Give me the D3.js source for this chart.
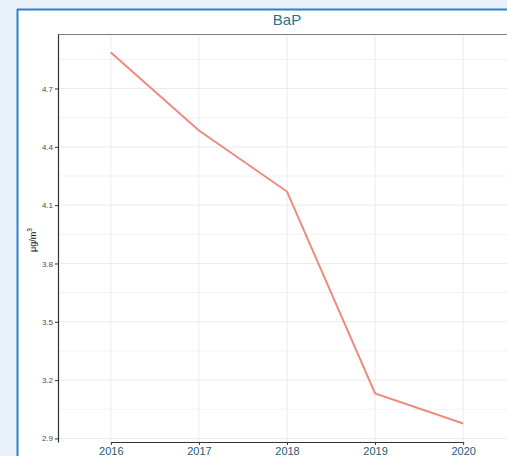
<!DOCTYPE html>
<html>
<head>
<meta charset="utf-8">
<script src="https://cdn.jsdelivr.net/npm/d3@7"></script>
<style>
  html, body { margin: 0; padding: 0; background: #e8f1fa; overflow: hidden; }
  svg { display: block; font-family: "Liberation Sans", Arial, sans-serif; }
</style>
</head>
<body>
<svg id="chart" width="507" height="456"></svg>
<script>
// data
const years = ['2016', '2017', '2018', '2019', '2020'];
const bap = [4.885, 4.484, 4.17, 3.131, 2.977];
const yTicks = [2.9, 3.2, 3.5, 3.8, 4.1, 4.4, 4.7];
const title = 'BaP';

const svg = d3.select('#chart');
const margin = { left: 58, top: 34, right: -9, bottom: 14 };
const W = 507, H = 456;
const innerW = W - margin.left - margin.right;
const innerH = H - margin.top - margin.bottom;

// page background + white card
svg.append('rect').attr('width', W).attr('height', H).attr('fill', '#e9f2fb');
svg.append('rect').attr('x', 18).attr('y', 10).attr('width', W).attr('height', H)
  .attr('fill', '#fff');
svg.append('line').attr('x1', 17).attr('x2', W).attr('y1', 9.5).attr('y2', 9.5)
  .attr('stroke', '#2c80cf').attr('stroke-width', 2);
svg.append('line').attr('x1', 17.5).attr('x2', 17.5).attr('y1', 9).attr('y2', H)
  .attr('stroke', '#2c80cf').attr('stroke-width', 2);

// scales (discrete x with ggplot style 0.6 expansion)
const step = innerW / (years.length - 1 + 1.2);
const x = d3.scalePoint().domain(years)
  .range([0.6 * step, innerW - 0.6 * step]);
const ext = d3.extent(bap);
const pad = (ext[1] - ext[0]) * 0.05;
const y = d3.scaleLinear().domain([ext[0] - pad, ext[1] + pad]).range([innerH, 0]);

const g = svg.append('g').attr('transform', `translate(${margin.left},${margin.top})`);

// grid
const minor = d3.range(yTicks.length - 1).map(i => (yTicks[i] + yTicks[i + 1]) / 2);
minor.push(yTicks[yTicks.length - 1] + 0.15);
g.append('g').selectAll('line').data(minor).enter().append('line')
  .attr('x1', 0).attr('x2', innerW)
  .attr('y1', d => y(d)).attr('y2', d => y(d))
  .attr('stroke', '#f2f2f2').attr('stroke-width', 1);
g.append('g').selectAll('line').data(yTicks).enter().append('line')
  .attr('x1', 0).attr('x2', innerW)
  .attr('y1', d => y(d)).attr('y2', d => y(d))
  .attr('stroke', '#ebebeb').attr('stroke-width', 1);
g.append('g').selectAll('line').data(years).enter().append('line')
  .attr('x1', d => x(d)).attr('x2', d => x(d))
  .attr('y1', 0).attr('y2', innerH)
  .attr('stroke', '#ebebeb').attr('stroke-width', 1);

// top border
g.append('line').attr('x1', 0).attr('x2', innerW).attr('y1', 0.5).attr('y2', 0.5)
  .attr('stroke', '#808080').attr('stroke-width', 1.2);

// line
const line = d3.line().x((d, i) => x(years[i])).y(d => y(d));
g.append('path').datum(bap)
  .attr('d', line)
  .attr('fill', 'none')
  .attr('stroke', '#ee8a80')
  .attr('stroke-width', 2);

// axes
const yAxis = g.append('g')
  .call(d3.axisLeft(y).tickValues(yTicks).tickSizeInner(3).tickSizeOuter(0)
    .tickPadding(2).tickFormat(d3.format('.1f')));
yAxis.select('.domain').attr('stroke', '#333').attr('stroke-width', 1.2);
yAxis.selectAll('.tick line').attr('stroke', '#333');
yAxis.selectAll('text').attr('fill', '#4d4d4d').style('font-size', '8px');

const xAxis = g.append('g').attr('transform', `translate(0,${innerH})`)
  .call(d3.axisBottom(x).tickSizeInner(3).tickSizeOuter(0).tickPadding(2));
xAxis.select('.domain').attr('stroke', '#333').attr('stroke-width', 1.2);
xAxis.selectAll('.tick line').attr('stroke', '#333');
xAxis.selectAll('text').attr('fill', '#1f5a73').style('font-size', '11px');

// title
svg.append('text')
  .attr('x', margin.left + innerW / 2).attr('y', 25)
  .attr('text-anchor', 'middle')
  .attr('fill', '#2b7088')
  .style('font-size', '15px')
  .text(title);

// y label
const yl = svg.append('text')
  .attr('transform', `translate(36,${margin.top + innerH / 2 + 2}) rotate(-90)`)
  .attr('text-anchor', 'middle')
  .attr('fill', '#111')
  .style('font-size', '9px');
yl.append('tspan').text('\u03bcg/m');
yl.append('tspan').attr('dy', -4).style('font-size', '6.5px').text('3');
</script>
</body>
</html>
